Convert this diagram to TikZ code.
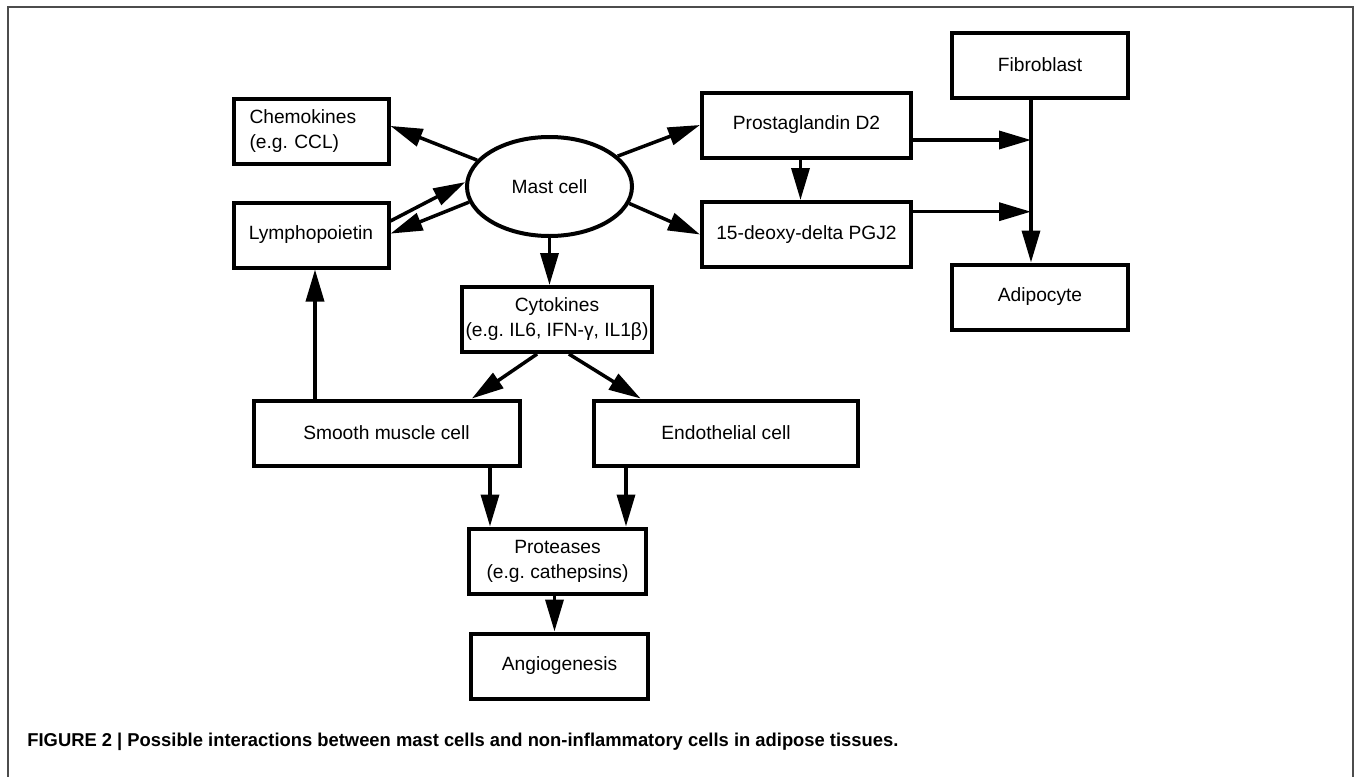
\documentclass[tikz,border=0pt]{standalone}
\usepackage{fontspec}
\usepackage{graphicx}
\setmainfont{Liberation Sans}
\frenchspacing
\usetikzlibrary{shapes.geometric,arrows.meta,positioning}
\tikzstyle{cellbox} = [rectangle, draw=black, line width=2pt, minimum height=32.5pt, align=center, inner sep=2pt, font=\fontsize{9.6}{12.5}\selectfont]
\tikzstyle{cellround} = [ellipse, draw=black, line width=2pt, minimum width=82.5pt, minimum height=49.5pt, inner sep=0pt, font=\fontsize{9.6}{12.5}\selectfont]
\tikzstyle{arrow} = [line width=1.75pt, -{Triangle[length=16pt,width=9pt]}]

\begin{document}
\begin{tikzpicture}[x=0.5pt, y=-0.5pt]
		\useasboundingbox (0,0) rectangle (1356,777);
		\coordinate (chemo) at (311,131.5);
		\coordinate (lympho) at (311,235);
		\coordinate (mast) at (549.5,186.5);
		\coordinate (cyto) at (557,319.5);
		\coordinate (pgd) at (806.5,125);
		\coordinate (deoxy) at (806.5,234.5);
		\coordinate (fibro) at (1040,65);
		\coordinate (adipo) at (1040,297);
		\coordinate (smooth) at (386.5,433);
		\coordinate (endo) at (726,433);
		\coordinate (prot) at (557.5,561);
		\coordinate (angio) at (559.5,666);
		% frame (open at the bottom)
		\draw[black!70, line width=0.6pt] (8,777) -- (8,7) -- (1353,7) -- (1353,777);
		% Mast cell
		\node[cellround, name=mast] at (mast) {Mast cell};
		% Products of the mast cell
		\node[cellbox, name=chemo, text width=61.5pt, inner xsep=8pt, align=left] at (chemo) {Chemokines\\(e.g. CCL)};
		\node[cellbox, name=lympho, minimum width=77.5pt] at (lympho) {Lymphopoietin};
		\node[cellbox, name=cyto, minimum width=93.5pt] at (cyto) {Cytokines\\(e.g. IL6, IFN-γ, IL1β)};
		\node[cellbox, name=pgd, minimum width=104.5pt] at (pgd) {Prostaglandin D2};
		\node[cellbox, name=deoxy, minimum width=104.5pt] at (deoxy) {15-deoxy-delta PGJ2};
		% Non-inflammatory cells
		\node[cellbox, name=fibro, minimum width=88pt] at (fibro) {Fibroblast};
		\node[cellbox, name=adipo, minimum width=88pt] at (adipo) {Adipocyte};
		\node[cellbox, name=smooth, minimum width=133pt] at (smooth) {Smooth muscle cell};
		\node[cellbox, name=endo, minimum width=132pt] at (endo) {Endothelial cell};
		\node[cellbox, name=prot, minimum width=88.5pt] at (prot) {Proteases\\(e.g. cathepsins)};
		\node[cellbox, name=angio, minimum width=88.5pt] at (angio) {Angiogenesis};
		% Arrows
		\draw [arrow] (mast.160) -- (chemo.4);
		\draw [arrow] (lympho.10) -- (mast.177);
		\draw [arrow] (mast.191) -- (lympho.1);
		\draw [arrow] (mast.south) -- (mast.south |- cyto.north);
		\draw [arrow] (mast.24) -- (pgd.west);
		\draw [arrow] (mast.-12) -- (deoxy.west);
		\draw [arrow] ([xshift=-3pt]pgd.south) -- ([xshift=-3pt]deoxy.north);
		\coordinate (fibjoin) at ([xshift=-4.5pt]fibro.south);
		\draw [arrow] (fibjoin) -- (fibjoin |- adipo.north);
		\draw [arrow] ([yshift=-7.5pt]pgd.east) -- ([yshift=-7.5pt]pgd.east -| fibjoin);
		\draw [arrow] ([yshift=11.4pt]deoxy.east) -- ([yshift=11.4pt]deoxy.east -| fibjoin);
		\draw [arrow] (cyto.240) -- (smooth.22);
		\draw [arrow] (cyto.-71) -- (endo.158);
		\draw [arrow] ([xshift=51.75pt]smooth.south) -- ([xshift=51.75pt]smooth.south |- prot.north);
		\draw [arrow] ([xshift=-50pt]endo.south) -- ([xshift=-50pt]endo.south |- prot.north);
		\draw [arrow] ([xshift=-1.5pt]prot.south) -- ([xshift=-1.5pt]prot.south |- angio.north);
		\draw [arrow] ([xshift=2pt]lympho.south |- smooth.north) -- ([xshift=2pt]lympho.south);
		% Caption
		\node[anchor=base west, inner sep=0pt, font=\fontsize{9.3}{11}\selectfont\bfseries, name=caption] at (27,746) {\resizebox{435.5pt}{\height}{FIGURE 2 | Possible interactions between mast cells and non-inflammatory cells in adipose tissues.}};
\end{tikzpicture}
\end{document}
